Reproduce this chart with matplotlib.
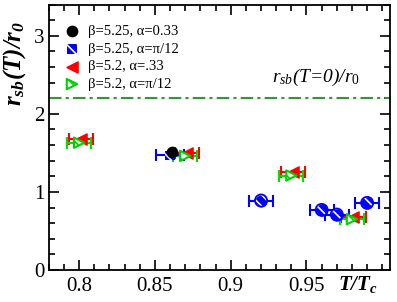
import matplotlib
matplotlib.use('Agg')
import matplotlib.pyplot as plt
from matplotlib.ticker import MultipleLocator

plt.rcParams['font.family'] = 'Liberation Serif'
plt.rcParams['mathtext.fontset'] = 'custom'
plt.rcParams['mathtext.rm'] = 'Liberation Serif'
plt.rcParams['mathtext.it'] = 'Liberation Serif:italic'
plt.rcParams['mathtext.bf'] = 'Liberation Serif:bold:italic'
plt.rcParams['hatch.linewidth'] = 1.2

# beta=5.25, alpha=0.33
black_x = [0.861]
black_y = [1.51]

# beta=5.25, alpha=pi/12
blue_x = [0.86, 0.92, 0.96, 0.97, 0.99]
blue_y = [1.47, 0.89, 0.77, 0.71, 0.86]
blue_err = [0.009, 0.008, 0.008, 0.008, 0.008]

# beta=5.2, alpha=.33
red_x = [0.801, 0.871, 0.941, 0.981]
red_y = [1.68, 1.50, 1.25, 0.68]
red_err = [0.008, 0.008, 0.008, 0.008]

# beta=5.2, alpha=pi/12
green_x = [0.80, 0.87, 0.94, 0.98]
green_y = [1.63, 1.46, 1.21, 0.65]
green_err = [0.008, 0.008, 0.008, 0.008]

r_sb_T0 = 2.2

hatch = '\\\\\\'

fig = plt.figure(figsize=(3.97, 3.02), dpi=100)
ax = fig.add_axes([0.123, 0.106, 0.859, 0.879])

ax.axhline(r_sb_T0, color='#2f9a2f', lw=1.5, ls=(0, (6, 2, 1.5, 2)))

ax.errorbar(red_x, red_y, xerr=red_err, fmt='none', ecolor='red', elinewidth=1.5, capsize=4, capthick=1.5)
ax.errorbar(green_x, green_y, xerr=green_err, fmt='none', ecolor='#00e000', elinewidth=1.5, capsize=4, capthick=1.5)
ax.errorbar(blue_x, blue_y, xerr=blue_err, fmt='none', ecolor='blue', elinewidth=1.5, capsize=4, capthick=1.5)

ax.scatter(black_x, black_y, marker='o', s=55, color='black', zorder=5, label='β=5.25, α=0.33')
ax.scatter(blue_x[:1], blue_y[:1], marker='s', s=45, facecolor='blue', edgecolor='white', hatch=hatch, lw=0,
           zorder=4, label='β=5.25, α=π/12')
# circles: blue fill, white hatch, blue outline
ax.scatter(blue_x[1:], blue_y[1:], marker='o', s=75, color='blue', lw=0, zorder=4)
ax.scatter(blue_x[1:], blue_y[1:], marker='o', s=75, facecolor='none', edgecolor='white', hatch=hatch, lw=0, zorder=4)
ax.scatter(blue_x[1:], blue_y[1:], marker='o', s=75, facecolor='none', edgecolor='blue', lw=1.3, zorder=4)
ax.scatter(red_x, red_y, marker='<', s=65, color='red', zorder=4, label='β=5.2, α=.33')
ax.scatter(green_x, green_y, marker='>', s=55, facecolor='white', edgecolor='#00d000', hatch=hatch, lw=1.5,
           zorder=5, label='β=5.2, α=π/12')

ax.set_xlim(0.78, 1.005)
ax.set_ylim(0, 3.4)
ax.xaxis.set_minor_locator(MultipleLocator(0.01))
ax.yaxis.set_major_locator(MultipleLocator(1))
ax.yaxis.set_minor_locator(MultipleLocator(0.2))
ax.set_xticks([0.8, 0.85, 0.9, 0.95])
ax.set_xticklabels(['0.8', '0.85', '0.9', '0.95'])
ax.tick_params(which='both', direction='in', top=True, right=True, width=1.2, labelsize=15)
ax.tick_params(which='major', length=7)
ax.tick_params(which='minor', length=4)
ax.tick_params(axis='y', pad=3)
ax.tick_params(axis='x', pad=5)
for s in ax.spines.values():
    s.set_linewidth(1.3)

ax.set_ylabel(r'$\mathbf{r_{sb}(T)/r_0}$', fontsize=18)
ax.yaxis.set_label_coords(-0.06, 0.78)
ax.text(0.984, -0.055, r'$\mathbf{T/T_c}$', transform=ax.get_xaxis_transform(), fontsize=15,
        ha='center', va='center')
ax.text(0.956, 2.47, r'$r_{sb}$(T=0)/$r_0$', fontsize=14, style='italic', ha='center', va='center')

ax.legend(loc='upper left', bbox_to_anchor=(0.025, 0.945), frameon=False, fontsize=10.5,
          handletextpad=0.5, labelspacing=0.3, handlelength=1.2, borderaxespad=0)

fig.savefig('out.png', dpi=100)
